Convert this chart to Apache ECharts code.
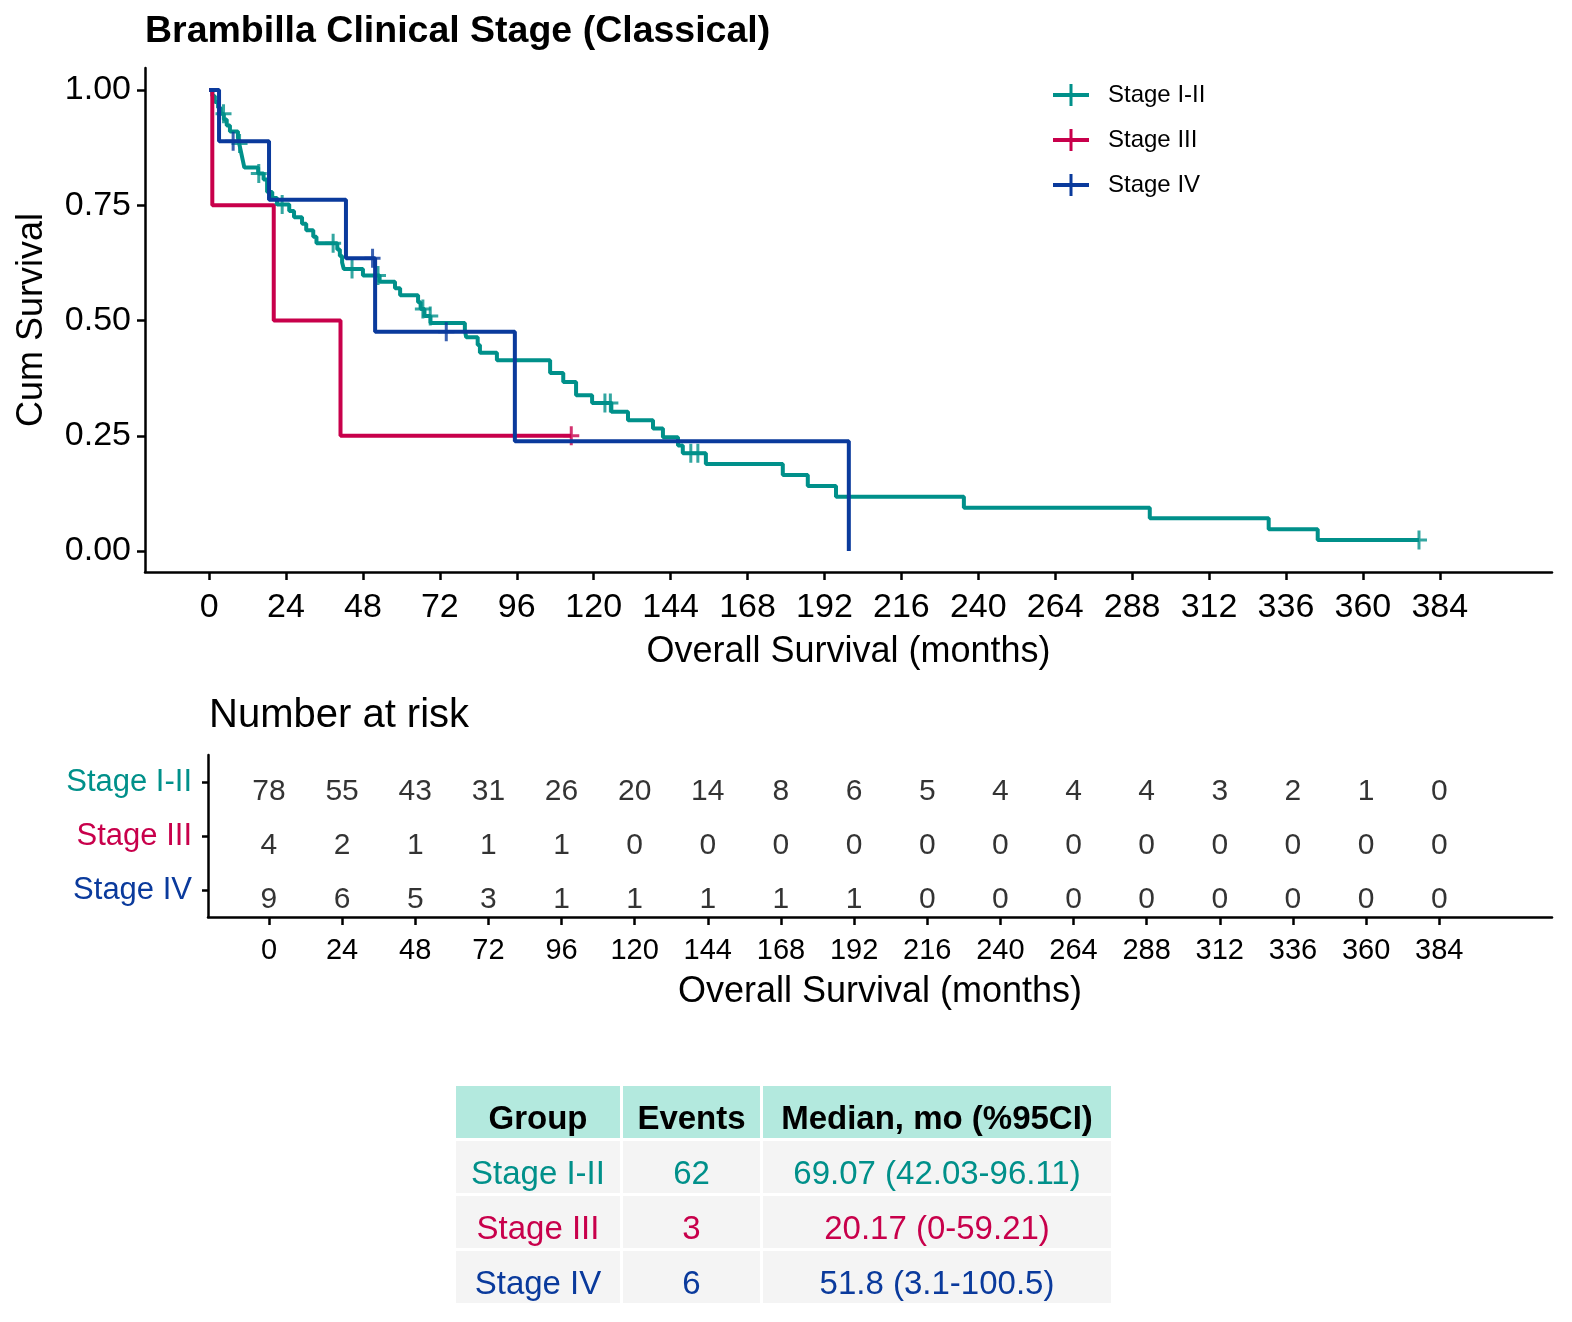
<!DOCTYPE html>
<html>
<head>
<meta charset="utf-8">
<title>Brambilla Clinical Stage (Classical)</title>
<script src="https://cdn.jsdelivr.net/npm/echarts@6/dist/echarts.min.js"></script>
<style>
  html, body { margin: 0; padding: 0; background: #fff; }
  #main { width: 1572px; height: 1322px; }
</style>
</head>
<body>
<div id="main"></div>
<script>
// group names and colours
var stageNames = ['Stage I-II', 'Stage III', 'Stage IV'];
var stageColors = ['#00908A', '#C8004B', '#0A3A9C'];

// Kaplan-Meier steps: [month, survival from that month on]
var survivalStage12 = [
  [0, 1.000], [1.0, 0.987], [1.8, 0.974], [2.8, 0.962], [3.6, 0.949], [4.6, 0.936],
  [5.5, 0.923], [6.5, 0.910], [9.0, 0.897], [9.4, 0.884], [9.8, 0.871], [10.2, 0.858],
  [10.6, 0.845], [11.0, 0.832], [15.3, 0.819], [17.0, 0.806], [18.1, 0.779], [19.7, 0.766],
  [21.2, 0.752], [25.0, 0.738], [26.5, 0.724], [29.0, 0.710], [30.3, 0.696], [32.5, 0.682],
  [33.5, 0.668], [40.0, 0.654], [40.8, 0.640], [41.5, 0.626], [42.03, 0.612], [48.0, 0.598],
  [53.2, 0.584], [58.0, 0.570], [59.6, 0.555], [65.2, 0.540], [66.0, 0.525], [67.2, 0.510],
  [69.07, 0.495], [79.8, 0.480], [80.2, 0.464], [83.8, 0.447], [84.5, 0.430], [89.8, 0.414],
  [106.4, 0.386], [110.5, 0.367], [114.5, 0.338], [119.5, 0.321], [125.5, 0.302], [130.7, 0.284],
  [138.5, 0.266], [141.6, 0.247], [146.3, 0.229], [147.8, 0.212], [155.0, 0.189], [179.0, 0.165],
  [186.8, 0.141], [195.6, 0.118], [235.5, 0.094], [293.5, 0.071], [330.6, 0.047], [345.9, 0.024],
  [377.5, 0.024]
];
var survivalStage3 = [[0, 1.0], [1.0, 0.75], [20.17, 0.5], [41.0, 0.25], [113.0, 0.25]];
var survivalStage4 = [[0, 1.0], [3.1, 0.889], [18.7, 0.762], [42.7, 0.635], [51.8, 0.476], [95.4, 0.238], [199.6, 0.0]];

// censoring times (months)
var censorStage12 = [4.5, 9.5, 15.5, 22.8, 38.7, 44.6, 52.7, 66.7, 69.0, 123.5, 125.2, 150.3, 152.5, 377.5];
var censorStage3 = [113.0];
var censorStage4 = [7.5, 51.0, 74.0];

// number at risk
var riskTimes = [0, 24, 48, 72, 96, 120, 144, 168, 192, 216, 240, 264, 288, 312, 336, 360, 384];
var riskStage12 = [78, 55, 43, 31, 26, 20, 14, 8, 6, 5, 4, 4, 4, 3, 2, 1, 0];
var riskStage3 = [4, 2, 1, 1, 1, 0, 0, 0, 0, 0, 0, 0, 0, 0, 0, 0, 0];
var riskStage4 = [9, 6, 5, 3, 1, 1, 1, 1, 1, 0, 0, 0, 0, 0, 0, 0, 0];

// axis ticks
var survivalTicks = [0, 0.25, 0.5, 0.75, 1];

// summary table
var tableHeader = ['Group', 'Events', 'Median, mo (%95CI)'];
var tableGroups = ['Stage I-II', 'Stage III', 'Stage IV'];
var tableEvents = ['62', '3', '6'];
var tableMedians = ['69.07 (42.03-96.11)', '20.17 (0-59.21)', '51.8 (3.1-100.5)'];

var FONT = 'Liberation Sans, Arial, sans-serif';
var curves = [survivalStage12, survivalStage3, survivalStage4];
var censors = [censorStage12, censorStage3, censorStage4];
var risks = [riskStage12, riskStage3, riskStage4];

function valueAt(curve, t) {
  var v = curve[0][1];
  for (var i = 0; i < curve.length; i++) {
    if (curve[i][0] <= t) v = curve[i][1];
  }
  return v;
}

var crossPath = 'path://M0,8H16V11H0Z M6.5,0H9.5V19H6.5Z';
var legendPath = 'path://M0,9H36V13H0Z M16.5,0H19.5V22H16.5Z';

var series = [];
stageNames.forEach(function (name, g) {
  series.push({
    name: name,
    type: 'line',
    step: 'end',
    xAxisIndex: 0, yAxisIndex: 0,
    symbol: 'none',
    data: curves[g],
    lineStyle: { color: stageColors[g], width: 4 },
    itemStyle: { color: stageColors[g] },
    z: 2 + g
  });
});
stageNames.forEach(function (name, g) {
  series.push({
    name: name + ' censored',
    type: 'scatter',
    xAxisIndex: 0, yAxisIndex: 0,
    symbol: crossPath,
    symbolSize: [16, 19],
    data: censors[g].map(function (t) { return [t, valueAt(curves[g], t)]; }),
    itemStyle: { color: stageColors[g] },
    z: 2 + g
  });
});
var riskData = [];
stageNames.forEach(function (name, g) {
  riskTimes.forEach(function (t, i) { riskData.push([t, name, risks[g][i]]); });
});
series.push({
  name: 'risk',
  type: 'scatter',
  xAxisIndex: 1, yAxisIndex: 1,
  symbolSize: 0,
  data: riskData,
  label: {
    show: true, position: 'inside', offset: [0, 10], fontSize: 30, color: '#000', fontFamily: FONT,
    formatter: function (p) { return String(p.value[2]); }
  }
});

// summary table drawn as graphic
var colLeft = [456, 623, 763];
var colWidth = [164, 137, 348];
var rowTop = [1086, 1141, 1196, 1251];
var rowH = 52;
var graphics = [];
function cell(c, r, text, fill, color, bold) {
  graphics.push({
    type: 'rect',
    shape: { x: colLeft[c], y: rowTop[r], width: colWidth[c], height: rowH },
    style: { fill: fill }
  });
  graphics.push({
    type: 'text',
    x: colLeft[c] + colWidth[c] / 2,
    y: rowTop[r] + rowH / 2 + 8,
    style: {
      text: text, fill: color, fontSize: 33, fontFamily: FONT,
      fontWeight: bold ? 'bold' : 'normal', align: 'center', verticalAlign: 'middle'
    }
  });
}
tableHeader.forEach(function (h, c) { cell(c, 0, h, '#B3E9DE', '#000', true); });
tableGroups.forEach(function (grp, r) {
  cell(0, r + 1, grp, '#F4F4F4', stageColors[r], false);
  cell(1, r + 1, tableEvents[r], '#F4F4F4', stageColors[r], false);
  cell(2, r + 1, tableMedians[r], '#F4F4F4', stageColors[r], false);
});

function axisLineStyle() { return { show: true, onZero: false, lineStyle: { color: '#000', width: 2.5 } }; }
function tickStyle(extra) {
  return Object.assign({ show: true, length: 8, lineStyle: { color: '#000', width: 2.5 } }, extra);
}

var chart = echarts.init(document.getElementById('main'));
chart.setOption({
  animation: false,
  backgroundColor: '#fff',
  textStyle: { fontFamily: FONT },
  title: [
    { text: 'Brambilla Clinical Stage (Classical)', left: 145, top: 13, padding: 0,
      textStyle: { fontSize: 37.5, fontWeight: 'bold', color: '#000', fontFamily: FONT } },
    { text: 'Number at risk', left: 209, top: 696, padding: 0,
      textStyle: { fontSize: 40, fontWeight: 'normal', color: '#000', fontFamily: FONT } }
  ],
  legend: {
    orient: 'vertical', left: 1048, top: 78,
    itemWidth: 36, itemHeight: 22, itemGap: 21,
    data: stageNames.map(function (n) { return { name: n, icon: legendPath }; }),
    textStyle: { fontSize: 24, color: '#000', fontFamily: FONT, padding: [0, 0, 0, 14] }
  },
  grid: [
    { left: 145, top: 68, width: 1407, height: 504 },
    { left: 208, top: 755, width: 1344, height: 162 }
  ],
  xAxis: [
    {
      type: 'value', gridIndex: 0, min: -20, max: 419,
      axisLine: axisLineStyle(),
      axisTick: tickStyle({ customValues: riskTimes }),
      axisLabel: { customValues: riskTimes, fontSize: 34, color: '#000', margin: 19, fontFamily: FONT },
      splitLine: { show: false },
      name: 'Overall Survival (months)', nameLocation: 'middle', nameGap: 62,
      nameTextStyle: { fontSize: 36, color: '#000', fontFamily: FONT }
    },
    {
      type: 'value', gridIndex: 1, min: -20, max: 421,
      axisLine: axisLineStyle(),
      axisTick: tickStyle({ customValues: riskTimes }),
      axisLabel: { customValues: riskTimes, fontSize: 29, color: '#000', margin: 19, fontFamily: FONT },
      splitLine: { show: false },
      name: 'Overall Survival (months)', nameLocation: 'middle', nameGap: 57,
      nameTextStyle: { fontSize: 36, color: '#000', fontFamily: FONT }
    }
  ],
  yAxis: [
    {
      type: 'value', gridIndex: 0, min: -0.0455, max: 1.048,
      axisLine: axisLineStyle(),
      axisTick: tickStyle({ customValues: survivalTicks }),
      axisLabel: {
        customValues: survivalTicks, fontSize: 34, color: '#000', margin: 14, fontFamily: FONT,
        formatter: function (v) { return v.toFixed(2); }
      },
      splitLine: { show: false },
      name: 'Cum Survival', nameLocation: 'middle', nameGap: 95, nameRotate: 90,
      nameTextStyle: { fontSize: 36, color: '#000', fontFamily: FONT }
    },
    {
      type: 'category', gridIndex: 1, data: stageNames, inverse: true,
      axisLine: axisLineStyle(),
      axisTick: tickStyle({ alignWithLabel: true, length: 6 }),
      axisLabel: {
        fontSize: 31, margin: 16, fontFamily: FONT, padding: [22, 0, 0, 0],
        color: function (v, i) { return stageColors[stageNames.indexOf(v)]; }
      }
    }
  ],
  graphic: graphics,
  series: series
});
</script>
</body>
</html>
